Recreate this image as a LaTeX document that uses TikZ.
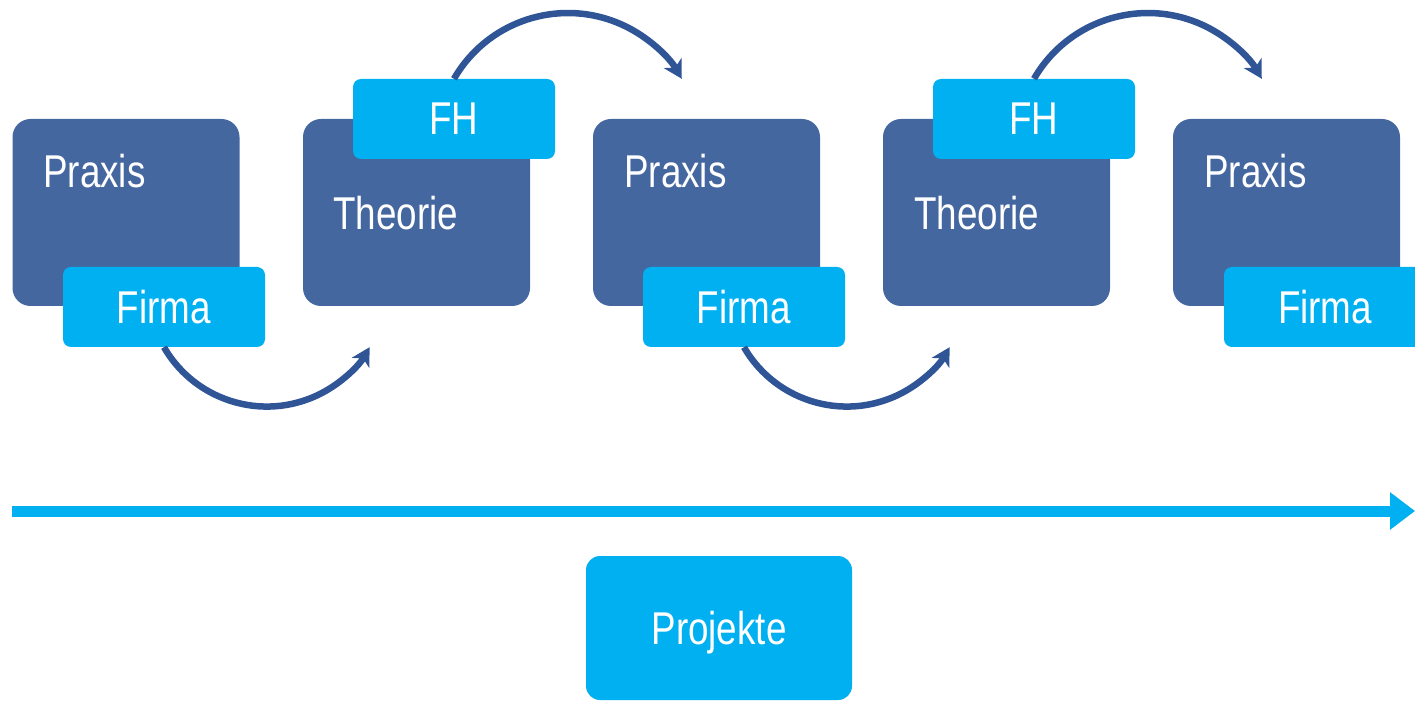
\documentclass[tikz,border=0pt]{standalone}
\usepackage{fontspec}
\setmainfont[FakeStretch=0.8]{Liberation Sans}
\usetikzlibrary{arrows.meta}
\definecolor{darkbox}{RGB}{69,103,160}
\definecolor{lightbox}{RGB}{0,176,240}
\definecolor{arcblue}{RGB}{47,85,151}
\tikzset{
  phase/.style={fill=darkbox, draw=none, rounded corners=18pt, minimum width=227pt, minimum height=187pt, inner sep=0pt},
  place/.style={fill=lightbox, draw=none, rounded corners=8pt, minimum width=202pt, minimum height=80pt, inner sep=0pt, text=white, font=\fontsize{46}{50}\selectfont},
  boxlabel/.style={text=white, inner sep=0pt, anchor=west, font=\fontsize{46}{50}\selectfont},
  hop/.style={draw=arcblue, line width=6.5pt, -{Stealth[length=18pt,width=20pt,inset=5pt]}},
  timeline/.style={draw=lightbox, line width=11pt, -{Triangle[length=25pt,width=36pt]}}
}
\begin{document}
\begin{tikzpicture}[x=1pt,y=1pt]
\useasboundingbox (0,0) rectangle (1415,702);
% phase boxes
\node[phase] (P1) at (126,489.5) {};
\node[phase] (T1) at (416.5,489.5) {};
\node[phase] (P2) at (706.5,489.5) {};
\node[phase] (T2) at (996.5,489.5) {};
\node[phase] (P3) at (1286.5,489.5) {};
% labels
\node[boxlabel] (LP1) at (43,530.5) {Praxis};
\node[boxlabel] (LT1) at (333,489) {Theorie};
\node[boxlabel] (LP2) at (624,530.5) {Praxis};
\node[boxlabel] (LT2) at (914,489) {Theorie};
\node[boxlabel] (LP3) at (1204,530.5) {Praxis};
% place boxes
\node[place] (F1) at (164,395) {Firma};
\node[place] (H1) at (454,583) {FH};
\node[place] (F2) at (744,395) {Firma};
\node[place] (H2) at (1034,583) {FH};
\node[place] (F3) at (1325,395) {Firma};
% hops
\draw[hop] (F1.south) arc[start angle=210, end angle=330, radius=118.7];
\draw[hop] (H1.north) arc[start angle=150, end angle=30, radius=131.5];
\draw[hop] (F2.south) arc[start angle=210, end angle=330, radius=118.7];
\draw[hop] (H2.north) arc[start angle=150, end angle=30, radius=131.5];
% timeline
\coordinate (TL0) at (12,191);
\coordinate (TL1) at (1415,191);
\draw[timeline] (TL0) -- (TL1);
% projects
\node[fill=lightbox, draw=none, rounded corners=14pt, minimum width=266pt, minimum height=144pt, inner sep=0pt, text=white, text depth=0pt, font=\fontsize{46}{50}\selectfont] (PR) at (719,74) {Projekte};
\end{tikzpicture}
\end{document}
